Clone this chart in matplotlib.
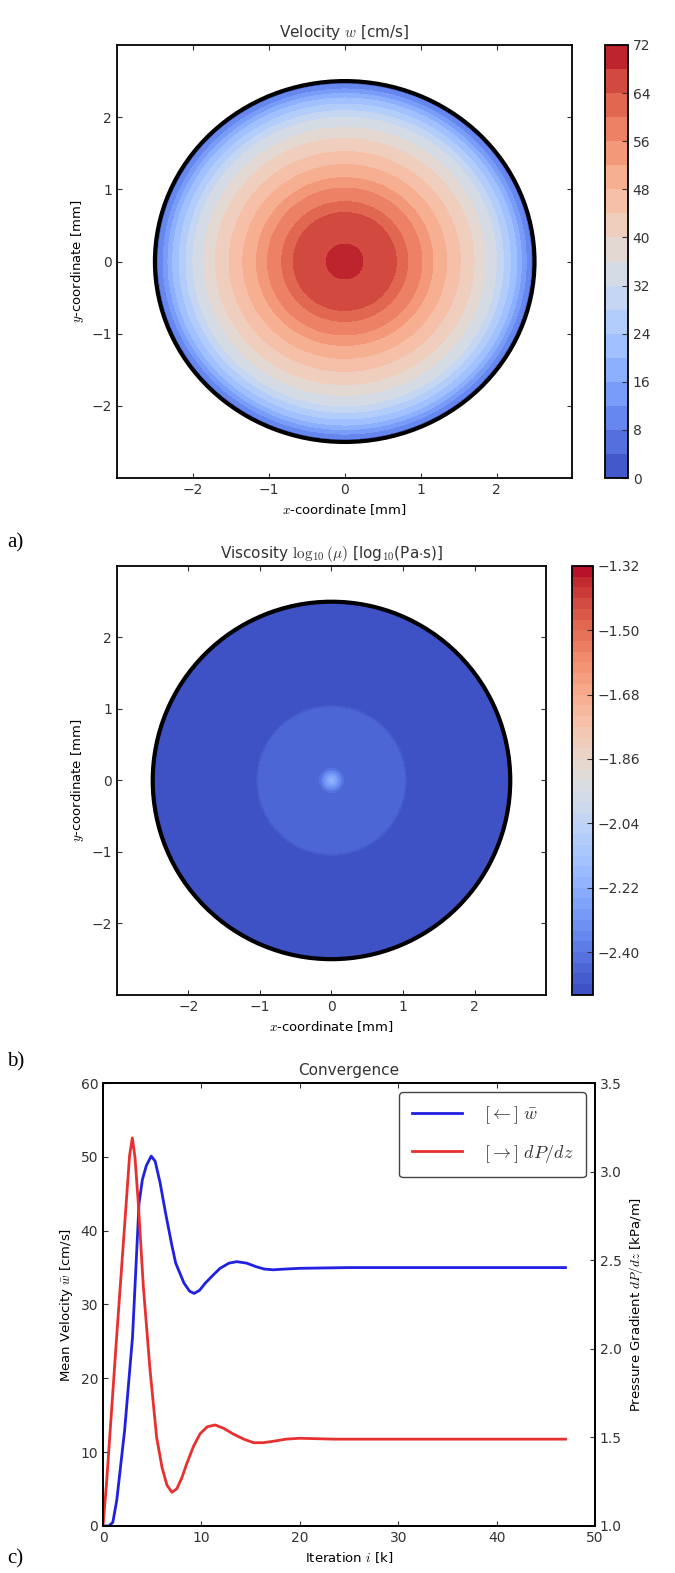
import numpy as np
import matplotlib
matplotlib.use('Agg')
import matplotlib.pyplot as plt
from matplotlib.patches import Circle

# radial profiles (r in mm)
vel_r = [0.0, 0.24, 0.68, 0.83, 1.0, 1.14, 1.32, 1.5, 1.75, 2.0, 2.25, 2.5]
vel_w = [71.0, 68.0, 64.0, 60.0, 56.5, 52.5, 48.5, 44.5, 39.0, 32.0, 21.0, 5.0]
vel_ticks = [0, 8, 16, 24, 32, 40, 48, 56, 64, 72]

visc_r = [0.0, 0.05, 0.1, 0.16, 1.0, 1.04, 2.5]
visc_v = [-2.20, -2.26, -2.33, -2.43, -2.43, -2.49, -2.49]
visc_ticks = [-2.40, -2.22, -2.04, -1.86, -1.68, -1.50, -1.32]

# convergence history (iteration in k)
w_iter = [0, 0.6, 1.0, 1.4, 2.2, 3.0, 3.4, 3.66, 4.0, 4.4, 4.9, 5.3, 5.8, 6.37, 7.0, 7.39,
          8.23, 8.8, 9.25, 9.8, 10.4, 11.2, 11.9, 12.8, 13.6, 14.6, 15.6, 16.4, 17.3,
          18.5, 20, 25, 30, 35, 40, 47]
w_mean = [0, 0, 0.5, 3.5, 13, 25.6, 36.5, 43.7, 46.9, 48.8, 50.1, 49.4, 46.5, 42.3, 38.0,
          35.6, 32.9, 31.8, 31.5, 31.9, 32.9, 34.0, 34.9, 35.6, 35.8, 35.6, 35.1, 34.8,
          34.7, 34.8, 34.9, 35.0, 35.0, 35.0, 35.0, 35.0]
p_iter = [0, 0.37, 1.39, 2.24, 2.7, 2.98, 3.25, 3.59, 4.1, 4.78, 5.45, 6.0, 6.5, 7.0, 7.5,
          8.0, 8.5, 9.2, 9.86, 10.6, 11.4, 12.3, 13.2, 14.3, 15.3, 16.3, 17.3, 18.6, 20,
          23.4, 30, 40, 47]
dpdz = [1.0, 1.25, 2.07, 2.73, 3.09, 3.19, 3.08, 2.82, 2.35, 1.88, 1.50, 1.33, 1.23, 1.19, 1.21,
        1.27, 1.35, 1.45, 1.52, 1.56, 1.57, 1.55, 1.52, 1.49, 1.47, 1.47, 1.478, 1.49, 1.495,
        1.49, 1.49, 1.49, 1.49]

R = 2.5
plt.rcParams['font.size'] = 10
plt.rcParams['mathtext.fontset'] = 'cm'
plt.rcParams['xtick.direction'] = 'in'
plt.rcParams['ytick.direction'] = 'in'
plt.rcParams['xtick.top'] = True
plt.rcParams['ytick.right'] = True
plt.rcParams['axes.linewidth'] = 1.3
plt.rcParams['text.color'] = '#333333'
plt.rcParams['xtick.color'] = '#333333'
plt.rcParams['ytick.color'] = '#333333'

fig = plt.figure(figsize=(6.75, 15.73), dpi=100)

x = np.linspace(-R, R, 401)
X, Y = np.meshgrid(x, x)
rr = np.hypot(X, Y)


def disk_panel(ax, cax, field, levels, ticks, title):
    Z = np.ma.masked_where(rr > R, field)
    cs = ax.contourf(X, Y, Z, levels=levels, cmap='coolwarm')
    ax.add_patch(Circle((0, 0), R, fill=False, ec='black', lw=3))
    ax.set_xlim(-3, 3)
    ax.set_ylim(-3, 3)
    ax.set_xticks([-2, -1, 0, 1, 2])
    ax.set_yticks([-2, -1, 0, 1, 2])
    ax.set_xlabel(r'$x$-coordinate [mm]', fontsize=9.5)
    ax.set_ylabel(r'$y$-coordinate [mm]', fontsize=9.5)
    ax.set_title(title, fontsize=11)
    cb = fig.colorbar(cs, cax=cax, ticks=ticks)
    cb.outline.set_linewidth(1.3)
    cb.ax.tick_params(direction='in', length=4)
    return cb


# a) velocity
ax1 = fig.add_axes([0.1733, 0.6961, 0.6748, 0.2753])
cax1 = fig.add_axes([0.8957, 0.6961, 0.0345, 0.2753])
w_field = np.interp(rr, vel_r, vel_w)
disk_panel(ax1, cax1, w_field, np.arange(0, 72.1, 4), vel_ticks,
           r'Velocity $w$ [cm/s]')

# b) viscosity
ax2 = fig.add_axes([0.1733, 0.3675, 0.6356, 0.2727])
cax2 = fig.add_axes([0.8474, 0.3675, 0.0311, 0.2727])
mu_field = np.interp(rr, visc_r, visc_v)
cb2 = disk_panel(ax2, cax2, mu_field, np.linspace(-2.52, -1.32, 41), visc_ticks,
                 r'Viscosity $\log_{10}(\mu)$ [log$_{10}$(Pa$\cdot$s)]')
cb2.ax.set_yticklabels(['\u2212%.2f' % abs(t) for t in visc_ticks])

# c) convergence
ax3 = fig.add_axes([0.1526, 0.0299, 0.7289, 0.2816])
l1, = ax3.plot(w_iter, w_mean, color='#2020e0', lw=2)
ax3.set_xlim(0, 50)
ax3.set_ylim(0, 60)
ax3.set_xlabel(r'Iteration $i$ [k]', fontsize=9.5)
ax3.set_ylabel(r'Mean Velocity $\bar{w}$ [cm/s]', fontsize=9.5)
ax3.set_title('Convergence', fontsize=11)
ax4 = ax3.twinx()
l2, = ax4.plot(p_iter, dpdz, color='#e83030', lw=2)
ax4.set_ylim(1.0, 3.5)
ax4.set_yticks([1.0, 1.5, 2.0, 2.5, 3.0, 3.5])
ax4.set_ylabel(r'Pressure Gradient $dP/dz$ [kPa/m]', fontsize=9.5)
ax4.tick_params(direction='in')
ax3.tick_params(right=False)
ax3.legend([l1, l2], [r'$[\leftarrow]\ \bar{w}$', r'$[\rightarrow]\ dP/dz$'],
           loc='upper right', fancybox=True, fontsize=13, handlelength=2.8,
           borderpad=0.7, labelspacing=0.9, handletextpad=1.2,
           edgecolor='#444444', framealpha=1)

for lab, yy in [('a)', 0.652), ('b)', 0.322), ('c)', 0.006)]:
    fig.text(0.01, yy, lab, fontsize=15, family='Liberation Serif', color='black')

fig.savefig('out.png', dpi=100)
